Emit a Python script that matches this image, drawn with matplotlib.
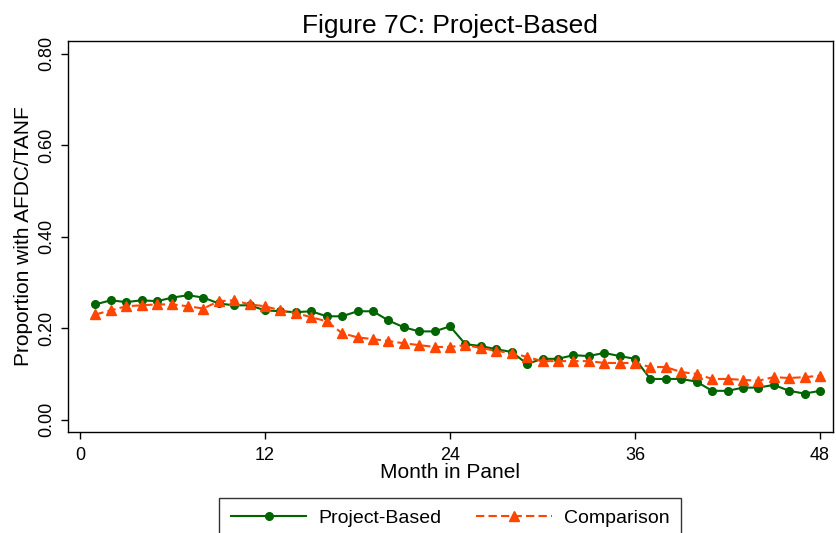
import numpy as np
import matplotlib.pyplot as plt

plt.rcParams['font.family'] = ['Liberation Sans', 'DejaVu Sans']

# month in panel
months = np.arange(1, 49)

# proportion with AFDC/TANF, project-based group
project_based = [0.252, 0.261, 0.257, 0.261, 0.259, 0.267, 0.272, 0.267, 0.254, 0.250,
                 0.250, 0.239, 0.237, 0.235, 0.237, 0.226, 0.226, 0.237, 0.237, 0.217,
                 0.202, 0.193, 0.193, 0.204, 0.165, 0.161, 0.154, 0.148, 0.122, 0.133,
                 0.133, 0.141, 0.139, 0.146, 0.139, 0.133, 0.089, 0.089, 0.089, 0.083,
                 0.063, 0.063, 0.070, 0.070, 0.076, 0.063, 0.057, 0.063]

# comparison group
comparison = [0.230, 0.239, 0.248, 0.250, 0.252, 0.252, 0.248, 0.243, 0.259, 0.261,
              0.252, 0.248, 0.239, 0.233, 0.224, 0.215, 0.189, 0.180, 0.176, 0.172,
              0.167, 0.163, 0.159, 0.159, 0.163, 0.157, 0.150, 0.146, 0.137, 0.128,
              0.128, 0.128, 0.128, 0.124, 0.124, 0.124, 0.115, 0.115, 0.104, 0.100,
              0.089, 0.089, 0.087, 0.085, 0.093, 0.091, 0.093, 0.096]

xticks = [0, 12, 24, 36, 48]
yticks = [0.0, 0.2, 0.4, 0.6, 0.8]

fig = plt.figure(figsize=(8.36, 5.33), dpi=100)
ax = fig.add_axes([0.0813, 0.1895, 0.9147, 0.7336])

ax.plot(months, project_based, color='#006400', marker='o', markersize=5.5,
        linewidth=1.5, label='Project-Based')
ax.plot(months, comparison, color='#FF4500', marker='^', markersize=6.5,
        linewidth=1.5, linestyle=(0, (4, 2)), label='Comparison')

ax.set_xlim(-0.78, 48.82)
ax.set_ylim(-0.027, 0.828)
ax.set_xticks(xticks)
ax.set_yticks(yticks)
ax.set_yticklabels([f'{v:.2f}' for v in yticks], rotation=90, va='center')
ax.tick_params(direction='out', length=5, width=1, labelsize=13)
ax.tick_params(axis='x', pad=6)
ax.tick_params(axis='y', pad=4)

for sp in ax.spines.values():
    sp.set_linewidth(1.0)

ax.set_xlabel('Month in Panel', fontsize=15, labelpad=-1)
ax.set_ylabel('Proportion with AFDC/TANF', fontsize=15, labelpad=4)
ax.set_title('Figure 7C: Project-Based', fontsize=19, pad=6)

leg = fig.legend(loc='upper center', bbox_to_anchor=(450 / 836, 1 - 497.7 / 533),
                 ncol=2, fontsize=14, numpoints=1, handlelength=3.9,
                 handletextpad=0.6, columnspacing=1.8, borderpad=0.6,
                 borderaxespad=0, fancybox=False, edgecolor='#333333', framealpha=1)
leg.get_frame().set_linewidth(1.0)

fig.savefig('out.png', dpi=100)
